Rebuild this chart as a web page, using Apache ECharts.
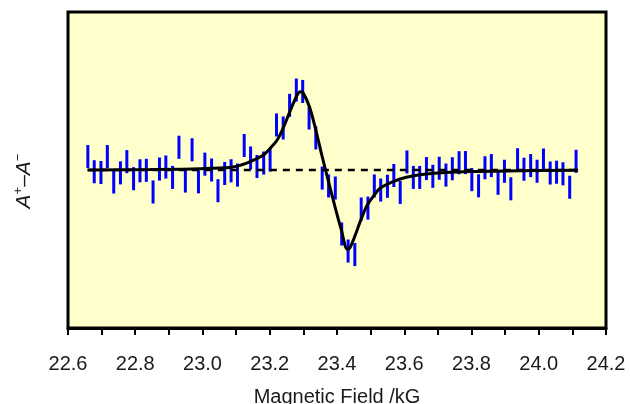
<!DOCTYPE html>
<html>
<head>
<meta charset="utf-8">
<script src="https://cdn.jsdelivr.net/npm/echarts@6/dist/echarts.min.js"></script>
<style>
html, body { margin: 0; padding: 0; background: #fff; }
#chart { width: 630px; height: 404px; }
</style>
</head>
<body>
<div id="chart"></div>
<script>
// measured points (magnetic field /kG)
var field = [22.659, 22.678, 22.698, 22.717, 22.736, 22.756, 22.775, 22.795, 22.814, 22.833,
	22.853, 22.872, 22.891, 22.911, 22.930, 22.949, 22.969, 22.988, 23.007, 23.027,
	23.046, 23.066, 23.085, 23.104, 23.124, 23.143, 23.162, 23.182, 23.201, 23.220,
	23.240, 23.259, 23.279, 23.298, 23.317, 23.337, 23.356, 23.375, 23.395, 23.414,
	23.433, 23.453, 23.472, 23.492, 23.511, 23.530, 23.550, 23.569, 23.588, 23.608,
	23.627, 23.646, 23.666, 23.685, 23.704, 23.724, 23.743, 23.763, 23.782, 23.801,
	23.821, 23.840, 23.859, 23.879, 23.898, 23.917, 23.937, 23.956, 23.976, 23.995,
	24.014, 24.034, 24.053, 24.072, 24.092, 24.111];
// A+ - A- (arbitrary units)
var signal = [0.085, -0.011, -0.016, 0.085, -0.076, -0.018, 0.053, -0.055, -0.005, -0.002,
	-0.139, 0.006, 0.019, -0.047, 0.144, -0.070, 0.128, -0.075, 0.037, 0.000,
	-0.131, -0.022, -0.005, -0.032, 0.155, 0.076, 0.022, 0.044, 0.063, 0.285,
	0.266, 0.409, 0.506, 0.497, 0.329, 0.203, -0.051, -0.101, -0.114, -0.405,
	-0.513, -0.535, -0.247, -0.241, -0.101, -0.127, -0.103, -0.035, -0.142, 0.051,
	-0.047, -0.047, 0.009, -0.040, 0.011, -0.032, 0.008, 0.046, 0.047, -0.061,
	-0.100, 0.014, 0.028, -0.084, -0.008, -0.119, 0.065, 0.005, 0.028, -0.008,
	0.063, -0.019, -0.014, -0.024, -0.109, 0.055];
var errHalf = 0.073;

// fitted curve
var fitField = [22.658, 22.845, 22.994, 23.086, 23.115, 23.142, 23.181, 23.202, 23.222, 23.240,
	23.258, 23.279, 23.291, 23.300, 23.318, 23.337, 23.356, 23.376, 23.394, 23.413,
	23.431, 23.439, 23.451, 23.471, 23.490, 23.511, 23.528, 23.567, 23.606, 23.665,
	23.796, 23.944, 24.117];
var fitValue = [0.000, 0.003, 0.008, 0.017, 0.032, 0.053, 0.095, 0.139, 0.190, 0.266,
	0.360, 0.464, 0.496, 0.485, 0.400, 0.253, 0.084, -0.084, -0.232, -0.380,
	-0.502, -0.490, -0.430, -0.316, -0.222, -0.158, -0.116, -0.074, -0.046, -0.025,
	-0.010, -0.005, -0.002];

var xTicks = [22.6, 22.8, 23.0, 23.2, 23.4, 23.6, 23.8, 24.0, 24.2];

var FONT = 'Liberation Sans, Arial, sans-serif';

var errData = [];
for (var i = 0; i < field.length; i++) {
	errData.push([field[i], signal[i] - errHalf, signal[i] + errHalf]);
}
var fitData = [];
for (var j = 0; j < fitField.length; j++) {
	fitData.push([fitField[j], fitValue[j]]);
}
var zeroData = [[field[0], 0], [field[field.length - 1], 0]];

var chart = echarts.init(document.getElementById('chart'), null, {renderer: 'canvas'});
var option = {
	animation: false,
	backgroundColor: '#fff',
	grid: {
		left: 68, right: 24, top: 12, bottom: 76,
		containLabel: false,
		outerBoundsMode: 'none',
		show: true,
		backgroundColor: '#ffffcc',
		borderColor: '#000',
		borderWidth: 3
	},
	xAxis: {
		type: 'value',
		min: xTicks[0],
		max: xTicks[xTicks.length - 1],
		interval: 0.2,
		name: 'Magnetic Field /kG',
		nameLocation: 'middle',
		nameGap: 59,
		nameTextStyle: {fontFamily: FONT, fontSize: 20, color: '#1a1a1a'},
		axisLine: {show: true, onZero: false, lineStyle: {color: '#000', width: 3}},
		axisTick: {show: true, length: 7, lineStyle: {color: '#000', width: 2}},
		minorTick: {show: true, splitNumber: 2, length: 7, lineStyle: {color: '#000', width: 2}},
		axisLabel: {
			margin: 26,
			fontFamily: FONT, fontSize: 20, color: '#1a1a1a',
			formatter: function (v) { return v.toFixed(1); }
		},
		splitLine: {show: false}
	},
	yAxis: {
		type: 'value',
		min: -1,
		max: 1,
		axisLine: {show: false},
		axisTick: {show: false},
		axisLabel: {show: false},
		splitLine: {show: false}
	},
	graphic: [{
		type: 'text',
		x: 24,
		y: 181,
		rotation: Math.PI / 2,
		style: {
			text: '{a|A}{s|+}{d|\u2013}{a|A}{s|\u2212}',
			rich: {
				a: {fontFamily: FONT, fontSize: 21, fontStyle: 'italic', fill: '#1a1a1a', lineHeight: 24},
				d: {fontFamily: FONT, fontSize: 21, fill: '#1a1a1a', lineHeight: 24},
				s: {fontFamily: FONT, fontSize: 13, fill: '#1a1a1a', lineHeight: 13, verticalAlign: 'top'}
			},
			align: 'center',
			verticalAlign: 'middle'
		}
	}],
	series: [
		{
			type: 'custom',
			name: 'data',
			data: errData,
			encode: {x: 0, y: [1, 2]},
			z: 2,
			renderItem: function (params, api) {
				var p1 = api.coord([api.value(0), api.value(1)]);
				var p2 = api.coord([api.value(0), api.value(2)]);
				return {
					type: 'line',
					shape: {x1: p1[0], y1: p1[1], x2: p2[0], y2: p2[1]},
					style: {stroke: '#0000ff', lineWidth: 3}
				};
			}
		},
		{
			type: 'line',
			name: 'zero',
			data: zeroData,
			showSymbol: false,
			z: 3,
			lineStyle: {color: '#000', width: 2.5, type: [7, 6]}
		},
		{
			type: 'line',
			name: 'fit',
			data: fitData,
			smooth: 0.35,
			showSymbol: false,
			z: 4,
			lineStyle: {color: '#000', width: 3}
		}
	]
};
chart.setOption(option);
</script>
</body>
</html>
